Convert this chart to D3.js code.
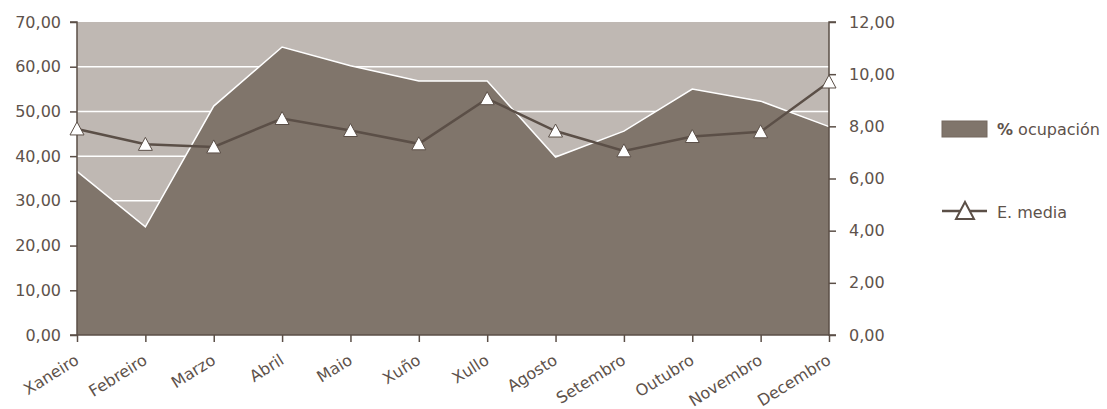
<!DOCTYPE html>
<html>
<head>
<meta charset="utf-8">
<script src="https://cdn.jsdelivr.net/npm/d3@7"></script>
<style>
  html, body { margin: 0; padding: 0; background: #fff; }
  svg { display: block; }
  text { font-family: "DejaVu Sans", sans-serif; fill: #5e524b; }
</style>
</head>
<body>
<svg id="chart" width="1107" height="409"></svg>
<script>
const months = ["Xaneiro","Febreiro","Marzo","Abril","Maio","Xuño","Xullo","Agosto","Setembro","Outubro","Novembro","Decembro"];
const ocupacion = [36.6, 24.2, 51.2, 64.4, 60.2, 56.8, 56.8, 39.8, 45.6, 55.0, 52.3, 46.6];
const estancia = [7.90, 7.31, 7.21, 8.30, 7.84, 7.33, 9.06, 7.82, 7.06, 7.61, 7.79, 9.70];
const leftTicks = [0,10,20,30,40,50,60,70];
const rightTicks = [0,2,4,6,8,10,12];
const seriesNames = ["% ocupación", "E. media"];

const svg = d3.select("#chart");
const L = 77, R = 829, T = 22, B = 335;
const cBg = "#bfb8b3", cArea = "#80756b", cLine = "#5b4f47", cAxis = "#5b4f47";

const x = d3.scalePoint().domain(months).range([L, R]).padding(0);
const yL = d3.scaleLinear().domain([0, 70]).range([B, T]);
const yR = d3.scaleLinear().domain([0, 12]).range([B, T]);

// plot background
svg.append("rect").attr("x", L).attr("y", T).attr("width", R - L).attr("height", B - T).attr("fill", cBg);

// gridlines
svg.append("g").selectAll("line").data(leftTicks.filter(d => d > 0 && d < 70)).join("line")
  .attr("x1", L).attr("x2", R).attr("y1", d => yL(d)).attr("y2", d => yL(d))
  .attr("stroke", "#fff").attr("stroke-width", 1.5);

// area
const area = d3.area().x((d, i) => x(months[i])).y0(B).y1(d => yL(d));
svg.append("path").datum(ocupacion).attr("d", area).attr("fill", cArea);
const topLine = d3.line().x((d, i) => x(months[i])).y(d => yL(d));
svg.append("path").datum(ocupacion).attr("d", topLine).attr("fill", "none").attr("stroke", "#fff").attr("stroke-width", 1.5);

// axes
const axL = d3.axisLeft(yL).tickValues(leftTicks).tickSize(7).tickPadding(9)
  .tickFormat(d => d3.format(".2f")(d).replace(".", ","));
const gL = svg.append("g").attr("transform", `translate(${L},0)`).call(axL);
const axR = d3.axisRight(yR).tickValues(rightTicks).tickSize(7).tickPadding(13)
  .tickFormat(d => d3.format(".2f")(d).replace(".", ","));
const gR = svg.append("g").attr("transform", `translate(${R},0)`).call(axR);
const axB = d3.axisBottom(x).tickSize(7).tickFormat("");
const gB = svg.append("g").attr("transform", `translate(0,${B})`).call(axB);
[gL, gR, gB].forEach(g => {
  g.select(".domain").attr("stroke", cAxis).attr("stroke-width", 1.5);
  g.selectAll(".tick line").attr("stroke", cAxis).attr("stroke-width", 1.5);
  g.selectAll("text").attr("font-size", 16).attr("fill", "#5e524b").attr("font-family", "DejaVu Sans, sans-serif");
});
gB.select(".domain").attr("d", `M${L},0H${R}`);
gL.select(".domain").attr("d", `M-7,${T}H0V${B}H-7`);
gR.select(".domain").attr("d", `M7,${T}H0V${B}H7`);

// x labels
svg.append("g").selectAll("text").data(months).join("text")
  .attr("transform", d => `translate(${x(d) + 3},${B + 28}) rotate(-32)`)
  .attr("text-anchor", "end").attr("font-size", 16).text(d => d);

// line series
const line = d3.line().x((d, i) => x(months[i])).y(d => yR(d));
svg.append("path").datum(estancia).attr("d", line).attr("fill", "none")
  .attr("stroke", cLine).attr("stroke-width", 2.5);
const tri = "M0,-7L7,6L-7,6Z";
svg.append("g").selectAll("path").data(estancia).join("path")
  .attr("transform", (d, i) => `translate(${x(months[i])},${yR(d)})`)
  .attr("d", tri).attr("fill", "#fff").attr("stroke", cLine).attr("stroke-width", 1);

// legend
const lg = svg.append("g");
lg.append("rect").attr("x", 942).attr("y", 121).attr("width", 45).attr("height", 16)
  .attr("fill", cArea).attr("stroke", "#75695f").attr("stroke-width", 1);
const t1 = lg.append("text").attr("x", 997).attr("y", 135).attr("font-size", 16);
t1.append("tspan").attr("font-weight", "bold").text(seriesNames[0].split(" ")[0]);
t1.append("tspan").text(" " + seriesNames[0].split(" ").slice(1).join(" "));
lg.append("line").attr("x1", 942).attr("x2", 987).attr("y1", 211).attr("y2", 211)
  .attr("stroke", cLine).attr("stroke-width", 2.5);
lg.append("path").attr("transform", "translate(965,211)").attr("d", "M0,-9L9,8L-9,8Z")
  .attr("fill", "#fff").attr("stroke", cLine).attr("stroke-width", 2);
lg.append("text").attr("x", 997).attr("y", 218).attr("font-size", 16).text(seriesNames[1]);
</script>
</body>
</html>
